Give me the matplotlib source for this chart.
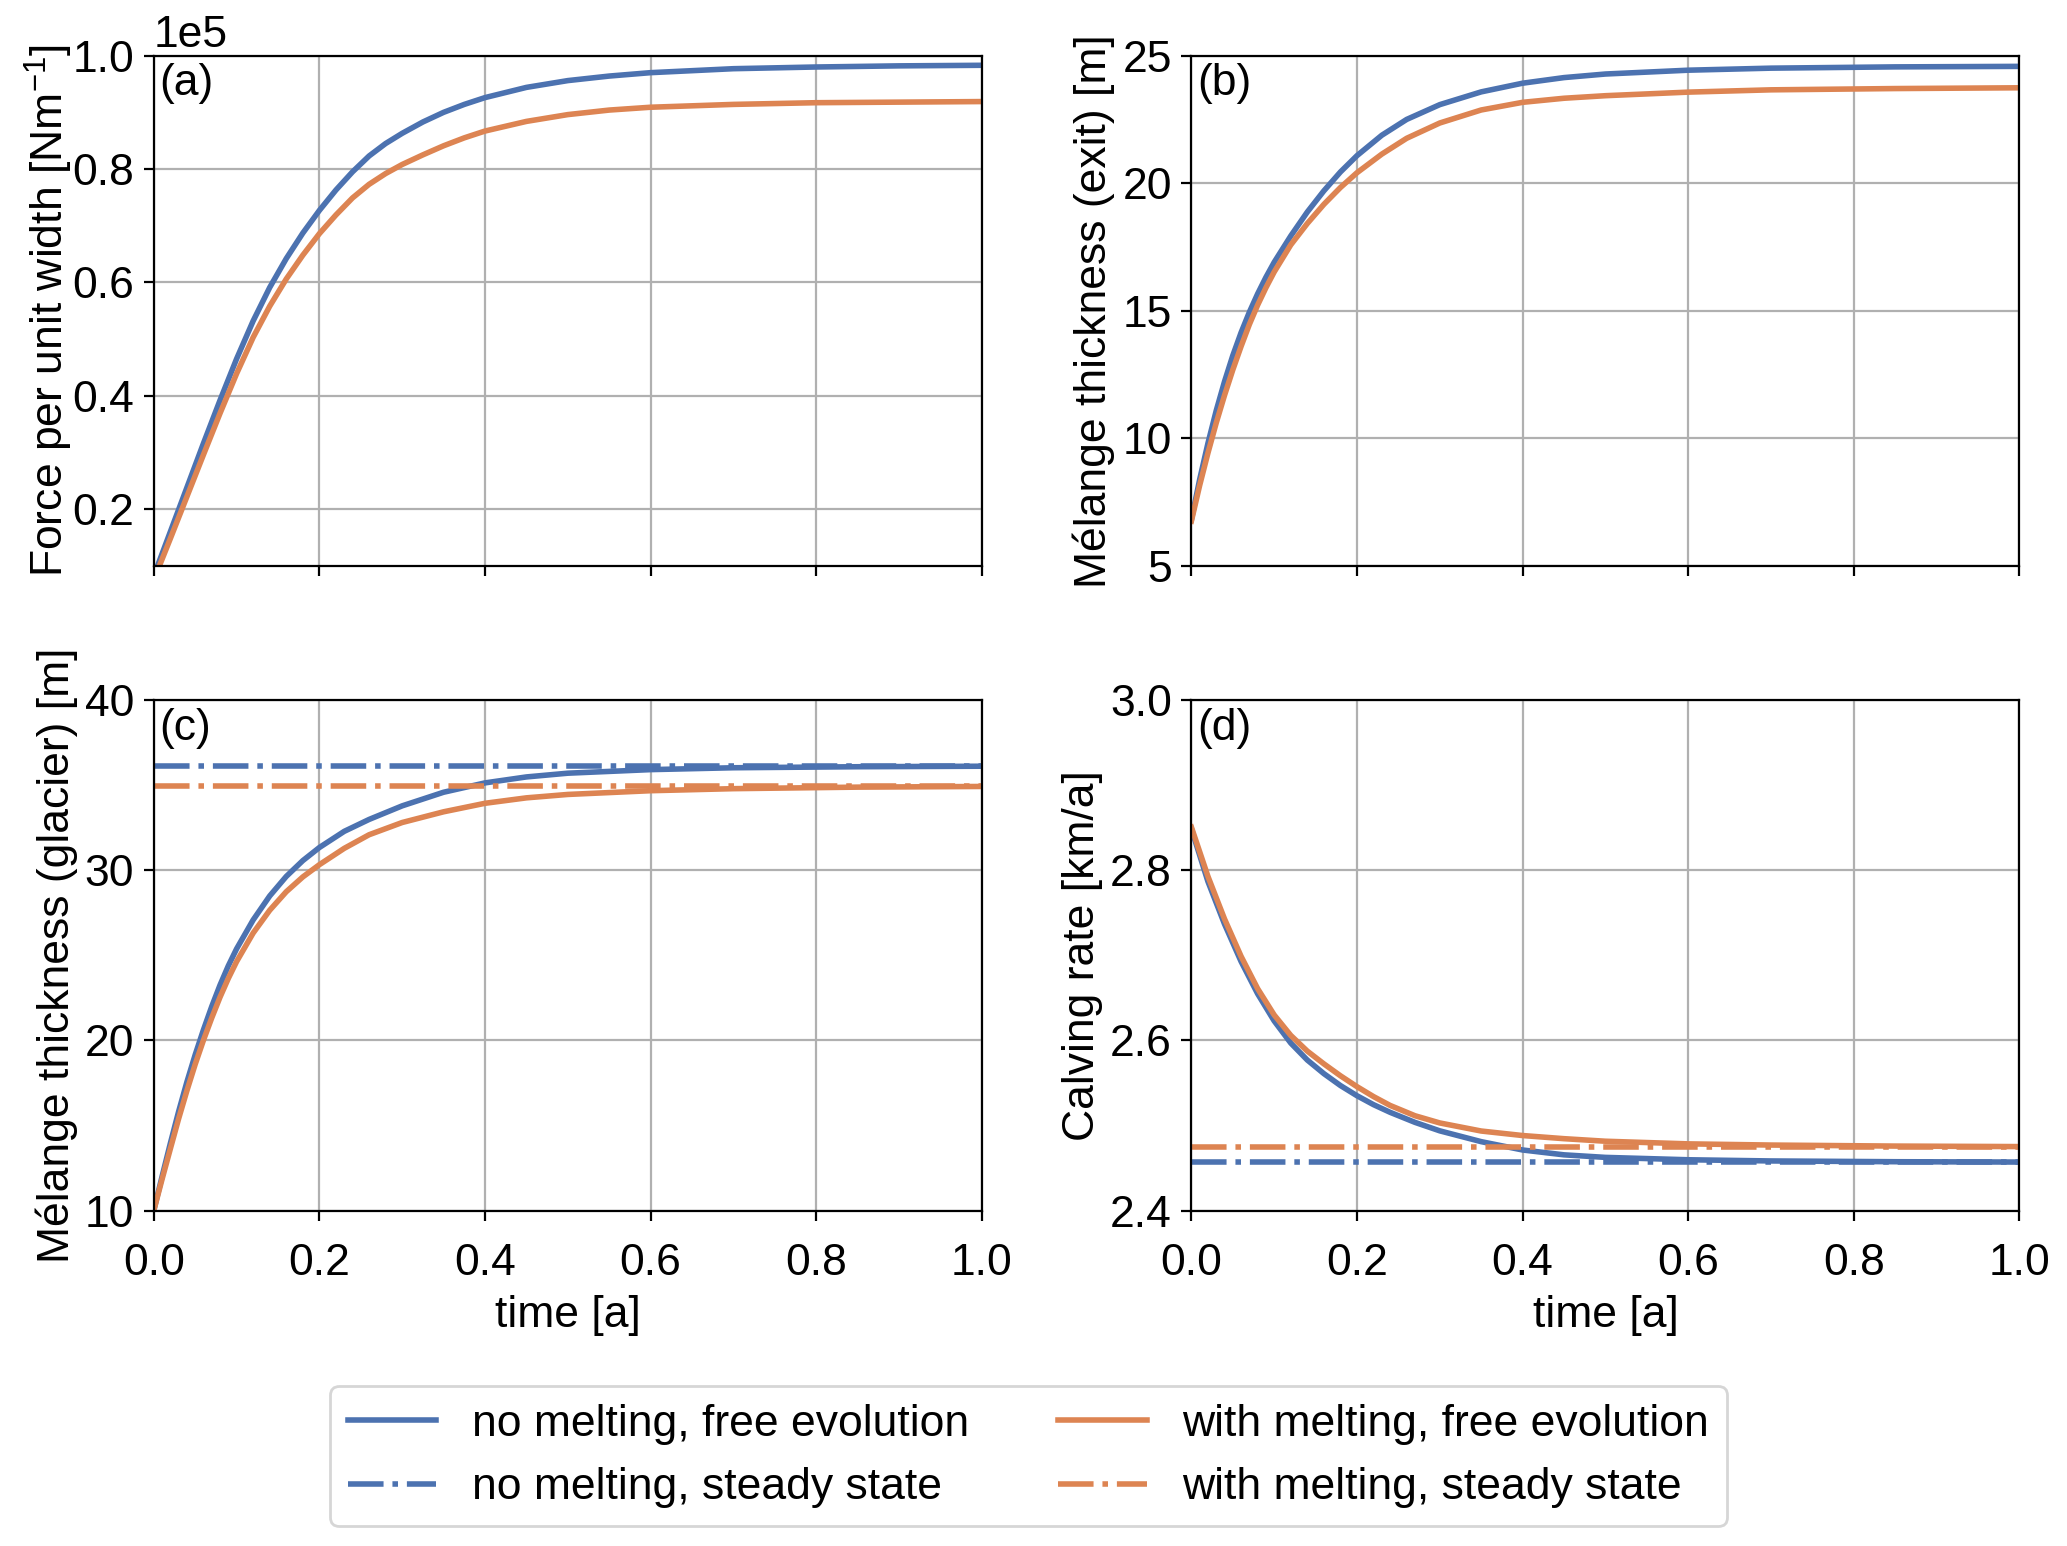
import numpy as np
import matplotlib
matplotlib.use('Agg')
import matplotlib.pyplot as plt

plt.rcParams['font.family'] = ['Liberation Sans', 'DejaVu Sans']
plt.rcParams['font.size'] = 16
plt.rcParams['mathtext.fontset'] = 'custom'
plt.rcParams['mathtext.rm'] = 'Liberation Sans'
plt.rcParams['mathtext.it'] = 'Liberation Sans:italic'

blue = '#4C72B0'
orange = '#DD8452'

# (a) force per unit width, values in 1e5 N/m
t_a = [0.0, 0.02, 0.04, 0.06, 0.08, 0.10, 0.12, 0.14, 0.16, 0.18, 0.20, 0.22, 0.24, 0.26,
       0.28, 0.30, 0.325, 0.35, 0.375, 0.40, 0.45, 0.50, 0.55, 0.60, 0.70, 0.80, 0.90, 1.0]
force_nomelt = [0.082, 0.160, 0.238, 0.316, 0.392, 0.465, 0.532, 0.591, 0.642, 0.687, 0.727,
                0.763, 0.795, 0.823, 0.845, 0.863, 0.883, 0.900, 0.914, 0.926, 0.944, 0.956,
                0.964, 0.970, 0.977, 0.980, 0.982, 0.983]
force_melt = [0.075, 0.148, 0.222, 0.296, 0.369, 0.439, 0.503, 0.558, 0.606, 0.648, 0.686,
              0.719, 0.749, 0.773, 0.792, 0.808, 0.825, 0.841, 0.855, 0.867, 0.884, 0.896,
              0.904, 0.909, 0.914, 0.917, 0.918, 0.919]

# (b) melange thickness at exit [m]
t_b = [0.0, 0.01, 0.02, 0.03, 0.04, 0.05, 0.06, 0.07, 0.08, 0.09, 0.10, 0.12, 0.14, 0.16,
       0.18, 0.20, 0.23, 0.26, 0.30, 0.35, 0.40, 0.45, 0.50, 0.60, 0.70, 0.85, 1.0]
exit_nomelt = [6.8, 8.38, 9.8, 11.08, 12.22, 13.24, 14.14, 14.94, 15.66, 16.31, 16.9, 17.93,
               18.87, 19.7, 20.44, 21.08, 21.88, 22.5, 23.08, 23.58, 23.92, 24.14, 24.28,
               24.43, 24.51, 24.56, 24.58]
exit_melt = [6.75, 8.15, 9.42, 10.6, 11.68, 12.68, 13.6, 14.46, 15.22, 15.9, 16.52, 17.58,
             18.42, 19.17, 19.83, 20.41, 21.14, 21.76, 22.36, 22.87, 23.17, 23.33, 23.43,
             23.57, 23.66, 23.71, 23.74]

# (c) melange thickness at glacier [m]
t_c = [0.0, 0.01, 0.02, 0.03, 0.04, 0.05, 0.06, 0.07, 0.08, 0.09, 0.10, 0.12, 0.14, 0.16,
       0.18, 0.20, 0.23, 0.26, 0.30, 0.35, 0.40, 0.45, 0.50, 0.60, 0.70, 0.85, 1.0]
glac_nomelt = [10.0, 12.0, 13.95, 15.82, 17.56, 19.16, 20.63, 22.0, 23.26, 24.39, 25.39, 27.09,
               28.5, 29.65, 30.58, 31.35, 32.3, 33.0, 33.8, 34.6, 35.15, 35.5, 35.72, 35.93,
               36.04, 36.1, 36.13]
glac_melt = [10.0, 11.84, 13.63, 15.4, 17.05, 18.6, 20.02, 21.33, 22.55, 23.65, 24.64, 26.32,
             27.66, 28.75, 29.62, 30.34, 31.3, 32.1, 32.82, 33.45, 33.95, 34.27, 34.47, 34.69,
             34.81, 34.9, 34.94]
glac_ss_nomelt = 36.15
glac_ss_melt = 34.95

# (d) calving rate [km/a]
t_d = [0.0, 0.02, 0.04, 0.06, 0.08, 0.10, 0.12, 0.14, 0.16, 0.18, 0.20, 0.22, 0.24, 0.27,
       0.30, 0.35, 0.40, 0.45, 0.50, 0.60, 0.70, 0.85, 1.0]
calv_nomelt = [2.849, 2.787, 2.737, 2.693, 2.655, 2.623, 2.597, 2.577, 2.561, 2.547, 2.535,
               2.5245, 2.5155, 2.5037, 2.4937, 2.481, 2.4712, 2.4655, 2.4625, 2.4597, 2.4583,
               2.4574, 2.457]
calv_melt = [2.851, 2.793, 2.743, 2.699, 2.661, 2.630, 2.606, 2.5875, 2.5725, 2.5585, 2.5457,
             2.534, 2.5236, 2.5115, 2.503, 2.4935, 2.4882, 2.4845, 2.4815, 2.4784, 2.477,
             2.4758, 2.4752]
calv_ss_nomelt = 2.4565
calv_ss_melt = 2.4752

lw = 2.0

fig, axs = plt.subplots(2, 2, sharex=True, figsize=(10.335, 7.73))
fig.subplots_adjust(left=0.0744, right=0.977, top=0.964, bottom=0.217, wspace=0.253, hspace=0.264)

ax = axs[0, 0]
ax.plot(t_a, np.array(force_nomelt) * 1e5, color=blue, lw=lw)
ax.plot(t_a, np.array(force_melt) * 1e5, color=orange, lw=lw)
ax.set_ylim(1e4, 1e5)
ax.set_yticks([2e4, 4e4, 6e4, 8e4, 1e5])
ax.ticklabel_format(axis='y', style='sci', scilimits=(0, 0))
ax.set_ylabel('Force per unit width [Nm$^{-1}$]', labelpad=-1)

ax = axs[0, 1]
ax.plot(t_b, exit_nomelt, color=blue, lw=lw)
ax.plot(t_b, exit_melt, color=orange, lw=lw)
ax.set_ylim(5, 25)
ax.set_yticks([5, 10, 15, 20, 25])
ax.set_ylabel('Mélange thickness (exit) [m]', labelpad=2.5)

ax = axs[1, 0]
ax.plot(t_c, glac_nomelt, color=blue, lw=lw)
ax.plot(t_c, glac_melt, color=orange, lw=lw)
ax.axhline(glac_ss_nomelt, color=blue, lw=lw, ls='-.')
ax.axhline(glac_ss_melt, color=orange, lw=lw, ls='-.')
ax.set_ylim(10, 40)
ax.set_yticks([10, 20, 30, 40])
ax.set_ylabel('Mélange thickness (glacier) [m]', labelpad=2.5)
ax.set_xlabel('time [a]')

ax = axs[1, 1]
l1, = ax.plot(t_d, calv_nomelt, color=blue, lw=lw)
l3, = ax.plot(t_d, calv_melt, color=orange, lw=lw)
l2 = ax.axhline(calv_ss_nomelt, color=blue, lw=lw, ls='-.')
l4 = ax.axhline(calv_ss_melt, color=orange, lw=lw, ls='-.')
ax.set_ylim(2.4, 3.0)
ax.set_yticks([2.4, 2.6, 2.8, 3.0])
ax.set_ylabel('Calving rate [km/a]', labelpad=2.5)
ax.set_xlabel('time [a]')

for ax, lab in zip(axs.flat, ['(a)', '(b)', '(c)', '(d)']):
    ax.set_xlim(0, 1)
    ax.set_xticks([0, 0.2, 0.4, 0.6, 0.8, 1.0])
    ax.tick_params(axis='x', pad=8.3)
    ax.grid(True)
    ax.text(0.007, 0.985, lab, transform=ax.transAxes, ha='left', va='top')

fig.legend([l1, l2, l3, l4],
           ['no melting, free evolution', 'no melting, steady state',
            'with melting, free evolution', 'with melting, steady state'],
           ncol=2, loc='lower center', bbox_to_anchor=(0.4975, 0.013), borderaxespad=0)

plt.savefig('out.png', dpi=200)
